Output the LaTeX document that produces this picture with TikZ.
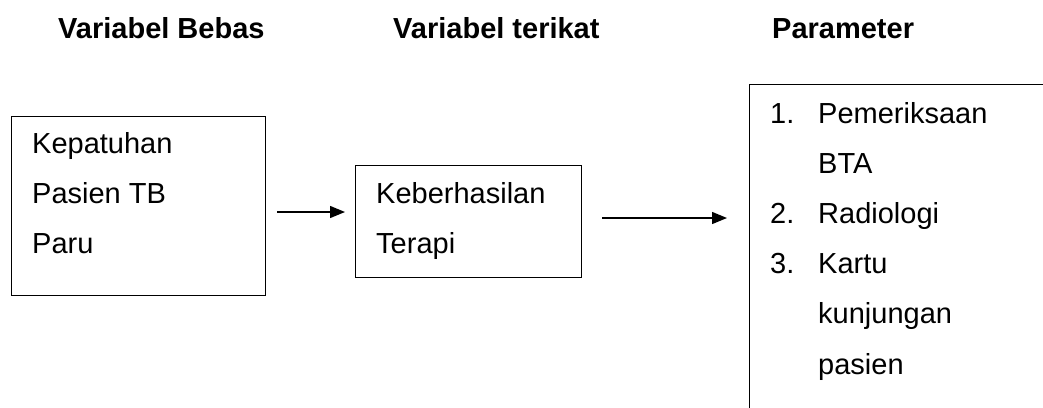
\documentclass[tikz,border=0pt]{standalone}
\usepackage{fontspec}
\setmainfont{Liberation Sans}
\usetikzlibrary{arrows.meta}
\begin{document}
\begin{tikzpicture}[x=1pt,y=-1pt,
  box/.style={draw, line width=1.4pt, inner sep=0pt, anchor=north west},
  txt/.style={anchor=base west, inner sep=0pt, font=\fontsize{29}{35}\selectfont},
  head/.style={anchor=base west, inner sep=0pt, font=\fontsize{29}{35}\selectfont\bfseries},
  arr/.style={line width=1.4pt, -{Triangle[length=15pt,width=12pt]}}]
\useasboundingbox (0,0) rectangle (1043,407);
\clip (0,0) rectangle (1043,407);
% headings
\node[head] (h1) at (58,38) {Variabel Bebas};
\node[head] (h2) at (393,38) {Variabel terikat};
\node[head] (h3) at (772,38) {Parameter};
% boxes
\node[box, minimum width=254pt, minimum height=179pt] (b1) at (11,116) {};
\node[box, minimum width=226pt, minimum height=112pt] (b2) at (355,165) {};
\node[box, minimum width=340pt, minimum height=360pt] (b3) at (749,84) {};
% box 1 text
\node[txt] (t11) at (32,153) {Kepatuhan};
\node[txt] (t12) at (32,203) {Pasien TB};
\node[txt] (t13) at (32,253) {Paru};
% box 2 text
\node[txt] (t21) at (376,203) {Keberhasilan};
\node[txt] (t22) at (376,253) {Terapi};
% box 3 text
\node[txt] (n1) at (770,123) {1.};
\node[txt] (t31) at (818,123) {Pemeriksaan};
\node[txt] (t32) at (818,173) {BTA};
\node[txt] (n2) at (770,223) {2.};
\node[txt] (t33) at (818,223) {Radiologi};
\node[txt] (n3) at (770,273) {3.};
\node[txt] (t34) at (818,273) {Kartu};
\node[txt] (t35) at (818,323) {kunjungan};
\node[txt] (t36) at (818,374) {pasien};
% arrows
\coordinate (a1s) at (277,212);
\coordinate (a1e) at (345,212);
\coordinate (a2s) at (602,218);
\coordinate (a2e) at (727,218);
\draw[arr] (a1s) -- (a1e);
\draw[arr] (a2s) -- (a2e);
\end{tikzpicture}
\end{document}
